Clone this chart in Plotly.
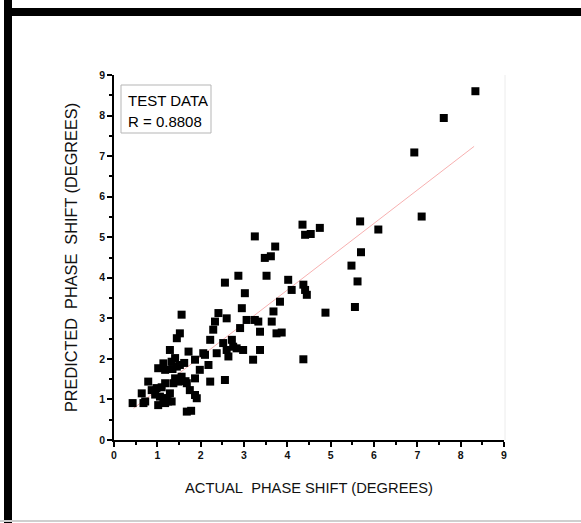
import plotly.graph_objects as go

# Data
actual = [0.43, 0.68, 0.64, 0.72, 0.79, 0.87, 0.98, 1.02, 1.06, 1.14, 1.18, 1.22, 1.25, 1.29,
          1.33, 1.18, 1.37, 1.41, 1.48, 1.68, 1.78, 1.68, 1.75, 1.87, 1.87, 1.91, 1.02, 1.14,
          1.18, 1.29, 1.33, 1.41, 1.45, 1.52, 1.45, 1.52, 1.56, 1.56, 1.72, 1.87, 1.98, 2.06,
          2.18, 2.22, 2.10, 2.22, 2.29, 2.33, 2.37, 2.41, 2.56, 2.52, 2.60, 2.60, 2.56, 2.64,
          2.72, 2.75, 2.83, 2.87, 2.95, 2.91, 2.98, 3.02, 3.06, 3.21, 3.25, 3.33, 3.37, 3.37,
          3.25, 3.48, 3.62, 3.52, 3.72, 3.68, 3.64, 3.75, 3.83, 3.87, 4.02, 4.10, 4.35, 4.41,
          4.54, 4.75, 4.37, 4.41, 4.45, 4.37, 4.88, 5.68, 6.10, 5.70, 5.48, 5.62, 5.56, 7.10,
          6.93, 7.61, 8.34, 0.95, 1.10, 1.35, 1.62, 1.65]
predicted = [0.91, 0.91, 1.15, 0.95, 1.44, 1.23, 1.28, 0.86, 1.07, 1.03, 1.40, 1.03, 0.95, 1.15,
             0.95, 0.91, 1.40, 1.52, 1.44, 0.70, 0.72, 1.40, 1.23, 1.52, 1.11, 1.03, 1.77, 1.89,
             1.73, 2.22, 1.93, 2.02, 1.81, 1.85, 2.51, 2.63, 3.09, 1.56, 2.18, 1.98, 1.73, 2.14,
             1.85, 1.44, 2.10, 2.47, 2.72, 2.92, 2.14, 3.13, 3.88, 2.39, 3.00, 2.22, 1.48, 2.06,
             2.47, 2.30, 2.26, 4.05, 3.25, 2.76, 2.22, 3.62, 2.96, 1.98, 2.96, 2.92, 2.67, 2.22,
             5.02, 4.49, 4.53, 4.05, 4.77, 3.17, 2.92, 2.63, 3.41, 2.65, 3.95, 3.70, 5.31, 5.06,
             5.08, 5.23, 3.83, 3.70, 3.58, 1.99, 3.14, 5.39, 5.19, 4.63, 4.30, 3.91, 3.28, 5.51,
             7.09, 7.94, 8.60, 1.12, 1.30, 1.75, 1.90, 1.45]
fit_x = [0.45, 8.31]
fit_y = [0.78, 7.24]
tick_vals = [0, 1, 2, 3, 4, 5, 6, 7, 8, 9]
legend_lines = ["TEST DATA", "R = 0.8808"]

FONT = "Liberation Sans, Arial"

fig = go.Figure()
fig.add_trace(go.Scatter(x=fit_x, y=fit_y, mode="lines",
                         line=dict(color="#f7b0b0", width=1), hoverinfo="skip"))
fig.add_trace(go.Scatter(x=actual, y=predicted, mode="markers",
                         marker=dict(symbol="square", size=8, color="black",
                                     line=dict(width=0))))

axis_common = dict(range=[0, 9], tickvals=tick_vals,
                   ticktext=["<b>%d</b>" % v for v in tick_vals],
                   showgrid=False, zeroline=False, showline=True, linecolor="black",
                   linewidth=1.6, ticks="outside", ticklen=5, tickwidth=1.5, tickcolor="black",
                   tickfont=dict(family=FONT, size=10.5, color="#111"),
                   minor=dict(dtick=0.5, ticks="outside", ticklen=3, tickwidth=1.5,
                              tickcolor="black", showgrid=False))

fig.update_layout(
    width=581, height=523,
    margin=dict(l=114, r=77, t=75, b=83),
    paper_bgcolor="white", plot_bgcolor="white",
    showlegend=False,
    xaxis=dict(**axis_common,
               title=dict(text="ACTUAL\u00a0 PHASE SHIFT (DEGREES)", standoff=22,
                          font=dict(family=FONT, size=14.7, color="#111"))),
    yaxis=dict(**axis_common,
               title=dict(text="PREDICTED\u00a0 PHASE\u00a0 SHIFT (DEGREES)", standoff=18,
                          font=dict(family=FONT, size=16.3, color="#111"))),
)

W, H, L, T = 390.0, 365.0, 114.0, 75.0
def px(x):
    return (x - L) / W
def py(y):
    return (T + H - y) / H

shapes = [
    dict(type="rect", xref="paper", yref="paper", x0=px(4), x1=px(581), y0=py(16), y1=py(8),
         fillcolor="black", line=dict(width=0), layer="above"),
    dict(type="rect", xref="paper", yref="paper", x0=px(4), x1=px(12), y0=py(523), y1=py(0),
         fillcolor="black", line=dict(width=0), layer="above"),
    dict(type="line", xref="paper", yref="paper", x0=px(0), x1=px(581), y0=py(521), y1=py(521),
         line=dict(color="#cfcfcf", width=2)),
    dict(type="line", xref="paper", yref="paper", x0=px(505), x1=px(505), y0=py(75), y1=py(440),
         line=dict(color="#ececec", width=1)),
    dict(type="rect", xref="paper", yref="paper", x0=px(121), x1=px(211), y0=py(133), y1=py(85),
         line=dict(color="#b5b5b5", width=1), fillcolor="rgba(0,0,0,0)"),
]
fig.update_layout(shapes=shapes)

for i, txt in enumerate(legend_lines):
    fig.add_annotation(xref="paper", yref="paper", x=px(126), y=py(100 + 21 * i),
                       xanchor="left", yanchor="middle", showarrow=False, text=txt,
                       font=dict(family=FONT, size=15, color="black"))

fig.write_html("out.html")
